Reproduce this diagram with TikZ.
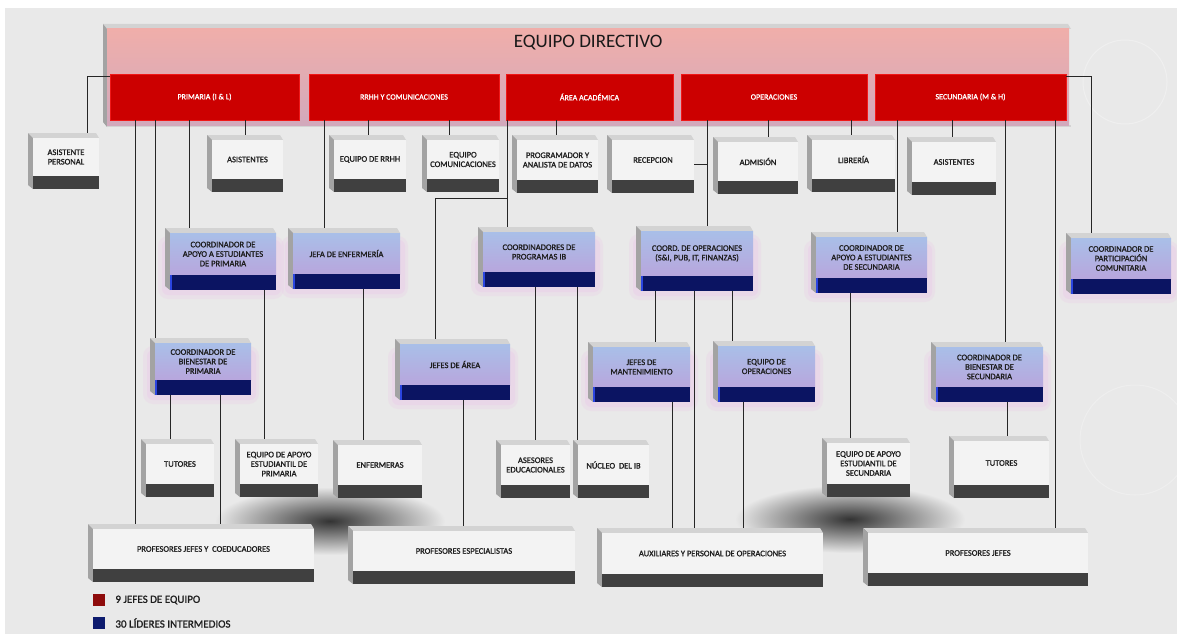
\documentclass[tikz,border=0pt]{standalone}
\usepackage{fontspec}
\setmainfont{Carlito}
\newfontfamily\cajafont{Carlito}[RawFeature={embolden=1.2}]
\usepackage{tikz}
\usetikzlibrary{positioning}

\definecolor{fondo}{HTML}{E9E9E9}
\definecolor{rosa}{HTML}{F0AEAA}
\definecolor{malva}{HTML}{D2A9BC}
\definecolor{rojo}{HTML}{CC0000}
\definecolor{rojoborde}{HTML}{F01818}
\definecolor{marino}{HTML}{0B1462}
\definecolor{azulclaro}{HTML}{A9BFE8}
\definecolor{lavanda}{HTML}{B8A6DD}
\definecolor{cara}{HTML}{F3F3F3}
\definecolor{barra}{HTML}{404040}
\definecolor{lado}{HTML}{A3A3A3}
\definecolor{tapa}{HTML}{D3D3D3}
\definecolor{texto}{HTML}{1E1E1E}
\definecolor{brillo}{HTML}{EBC8E8}
\definecolor{azulvivo}{HTML}{2B45E0}
\definecolor{legrojo}{HTML}{8E0B0B}
\definecolor{legazul}{HTML}{0D1B6E}

\tikzset{
  caja/.style={inner sep=0pt},
  txt/.style={font=\cajafont\fontsize{8.5}{9.5}\selectfont, text=texto, align=center, inner sep=0pt},
  jefe/.style={fill=rojo, draw=rojoborde, line width=0.6pt, text=white,
    font=\cajafont\fontsize{8}{9}\selectfont, inner sep=0pt},
  linea/.style={draw=black!85, line width=0.8pt},
  leyenda/.style={minimum size=12pt, inner sep=0pt},
  leytxt/.style={font=\cajafont\fontsize{11}{12}\selectfont, text=texto, inner sep=0pt}
}

% caja gris: nombre, x1, y1, x2, y2, texto
\newcommand{\cajagris}[6]{%
  \fill[tapa] (#2,#3) -- (#4-3,#3) -- (#4,#3+5) -- (#2+5,#3+5) -- cycle;
  \fill[lado] (#2,#3) -- (#2+5,#3+5) -- (#2+5,#5) -- (#2,#5-4) -- cycle;
  \fill[cara] (#2+5,#3+5) rectangle (#4,#5-13);
  \fill[barra] (#2+5,#5-13) rectangle (#4,#5);
  \node[caja, minimum width={#4-#2}, minimum height={#5-#3}] (#1) at ({(#2+#4)/2},{(#3+#5)/2}) {};
  \node[txt] at ({(#2+#4)/2+2.5},{(#3+#5)/2-4}) {#6};
}

% caja azul (lideres intermedios)
\newcommand{\cajaazul}[6]{%
  \fill[brillo, opacity=.25, rounded corners=10pt] (#2-7,#3+8) rectangle (#4+8,#5+9);
  \fill[brillo, opacity=.35, rounded corners=6pt] (#2-3,#3+12) rectangle (#4+5,#5+5);
  \fill[tapa] (#2,#3) -- (#4-3,#3) -- (#4,#3+5) -- (#2+5,#3+5) -- cycle;
  \fill[lado] (#2,#3) -- (#2+5,#3+5) -- (#2+5,#5) -- (#2,#5-4) -- cycle;
  \shade[top color=azulclaro, bottom color=lavanda] (#2+5,#3+5) rectangle (#4,#5-15);
  \fill[marino] (#2+5,#5-15) rectangle (#4,#5);
  \fill[azulvivo] (#2+5,#5-15) rectangle (#2+7,#5);
  \node[caja, minimum width={#4-#2}, minimum height={#5-#3}] (#1) at ({(#2+#4)/2},{(#3+#5)/2}) {};
  \node[txt] at ({(#2+#4)/2+2.5},{(#3+#5)/2-5}) {#6};
}

% caja roja (jefes de equipo)
\newcommand{\cajaroja}[6]{%
  \node[jefe, minimum width={#4-#2}, minimum height={#5-#3}] (#1) at ({(#2+#4)/2},{(#3+#5)/2}) {#6};
}

\begin{document}
\begin{tikzpicture}[x=1pt,y=-1pt]
\useasboundingbox (0,0) rectangle (1177,634);
\fill[white] (0,0) rectangle (1177,634);
\fill[fondo] (5,8) rectangle (1177,634);
\draw[white, opacity=.3, line width=1pt] (1125,82) circle (42);
\draw[white, opacity=.25, line width=1pt] (1135,440) circle (55);

% sombras bajo las cajas
\shade[inner color=black!80, outer color=fondo] (330,521) ellipse (115 and 34);
\shade[inner color=black!80, outer color=fondo] (850,519) ellipse (115 and 34);

% equipo directivo
\fill[tapa] (103,24) -- (1068,24) -- (1071,29) -- (107,29) -- cycle;
\fill[lado] (103,24) -- (107,29) -- (107,127) -- (103,122) -- cycle;
\fill[tapa] (107,125) rectangle (1071,127);
\shade[top color=rosa, middle color=rosa, bottom color=malva] (107,29) rectangle (1069,125);
\node[caja, minimum width=962, minimum height=96, anchor=north west] (dir) at (107,29) {};
\node[font=\fontsize{19}{22}\selectfont, text=black!90] (dirt) at ([yshift=-14]dir.north) {EQUIPO DIRECTIVO};

\cajaroja{prim}{110}{74}{299}{120}{PRIMARIA (I \& L)}
\cajaroja{rrhh}{309}{74}{499}{120}{RRHH Y COMUNICACIONES}
\cajaroja{acad}{506}{74}{673}{120}{ÁREA ACADÉMICA}
\cajaroja{oper}{681}{74}{867}{120}{OPERACIONES}
\cajaroja{secu}{875}{74}{1066}{120}{SECUNDARIA (M \& H)}

% primer nivel
\cajagris{asp}{28}{133}{99}{189}{ASISTENTE\\PERSONAL}
\cajagris{asip}{207}{135}{283}{192}{ASISTENTES}
\cajagris{eqrh}{329}{135}{406}{192}{EQUIPO DE RRHH}
\cajagris{eqco}{422}{135}{499}{192}{EQUIPO\\COMUNICACIONES}
\cajagris{prog}{512}{135}{598}{193}{PROGRAMADOR Y\\ANALISTA DE DATOS}
\cajagris{rece}{607}{135}{694}{193}{RECEPCION}
\cajagris{admi}{713}{137}{798}{194}{ADMISIÓN}
\cajagris{libr}{807}{135}{895}{192}{LIBRERÍA}
\cajagris{asis}{907}{137}{996}{195}{ASISTENTES}

\cajaazul{capp}{165}{228}{276}{290}{COORDINADOR DE\\APOYO A ESTUDIANTES\\DE PRIMARIA}
\cajaazul{jenf}{288}{228}{400}{289}{JEFA DE ENFERMERÍA}
\cajaazul{cpib}{478}{227}{595}{287}{COORDINADORES DE\\PROGRAMAS IB}
\cajaazul{cope}{636}{226}{753}{291}{COORD. DE OPERACIONES\\(S\&I, PUB, IT, FINANZAS)}
\cajaazul{caps}{811}{232}{927}{293}{COORDINADOR DE\\APOYO A ESTUDIANTES\\DE SECUNDARIA}
\cajaazul{cpc}{1066}{233}{1171}{294}{COORDINADOR DE\\PARTICIPACIÓN\\COMUNITARIA}

\cajaazul{cbp}{150}{338}{251}{395}{COORDINADOR DE\\BIENESTAR DE\\PRIMARIA}
\cajaazul{jare}{395}{339}{510}{400}{JEFES DE ÁREA}
\cajaazul{jman}{588}{342}{690}{402}{JEFES DE\\MANTENIMIENTO}
\cajaazul{eqop}{713}{341}{815}{402}{EQUIPO DE\\OPERACIONES}
\cajaazul{cbs}{931}{342}{1043}{402}{COORDINADOR DE\\BIENESTAR DE\\SECUNDARIA}

% segundo nivel
\cajagris{tutp}{141}{439}{214}{497}{TUTORES}
\cajagris{eaep}{235}{439}{318}{497}{EQUIPO DE APOYO\\ESTUDIANTIL DE\\PRIMARIA}
\cajagris{enfe}{333}{440}{422}{498}{ENFERMERAS}
\cajagris{aseo}{496}{440}{570}{498}{ASESORES\\EDUCACIONALES}
\cajagris{nucl}{573}{440}{649}{498}{NÚCLEO~~DEL IB}
\cajagris{eaes}{822}{438}{910}{497}{EQUIPO DE APOYO\\ESTUDIANTIL DE\\SECUNDARIA}
\cajagris{tuts}{949}{436}{1049}{498}{TUTORES}

\cajagris{pjc}{88}{524}{314}{582}{PROFESORES JEFES Y~~COEDUCADORES}
\cajagris{pesp}{348}{526}{575}{584}{PROFESORES ESPECIALISTAS}
\cajagris{aux}{597}{528}{823}{587}{AUXILIARES Y PERSONAL DE OPERACIONES}
\cajagris{pjef}{863}{528}{1088}{586}{PROFESORES JEFES}

% conectores
\foreach \hijo/\dx/\padre in {pjc/48/prim, cbp/6/prim, capp/25/prim, asip/39/prim,
    jenf/37/rrhh, eqrh/40/rrhh, eqco/28/rrhh, cpib/30/acad, prog/45/acad,
    cope/72/oper, admi/56/oper, libr/45/oper,
    caps/87/secu, asis/46/secu, cbs/75/secu, pjef/193/secu,
    eaep/30/capp, enfe/31/jenf, aseo/40/cpib, nucl/5/cpib,
    tutp/30/cbp, pjc/133/cbp, pesp/116/jare,
    jman/68/cope, aux/98/cope, eqop/20/cope, aux/76/jman, aux/147/eqop,
    eaes/29/caps, tuts/59/cbs}
  \draw[linea] ([xshift=\dx]\hijo.north west) -- ([xshift=\dx]\hijo.north west |- \padre.south);
\draw[linea] ([yshift=-3]prim.north west) -| ([xshift=60]asp.north west);
\draw[linea] ([xshift=41]jare.north west) |- ([xshift=30,yshift=28]cpib.north west);
\draw[linea] (rece.east) -- ([xshift=72]cope.north west |- rece.east);
\draw[linea] ([yshift=-3]secu.north east) -| ([xshift=26]cpc.north west);

% leyenda
\node[leyenda, fill=legrojo] (kroj) at (99,600) {};
\node[leytxt, right=10pt of kroj] (troj) {9 JEFES DE EQUIPO};
\node[leyenda, fill=legazul] (kazu) at (99,623) {};
\node[leytxt, right=10pt of kazu] (tazu) {30 LÍDERES INTERMEDIOS};
\end{tikzpicture}
\end{document}
